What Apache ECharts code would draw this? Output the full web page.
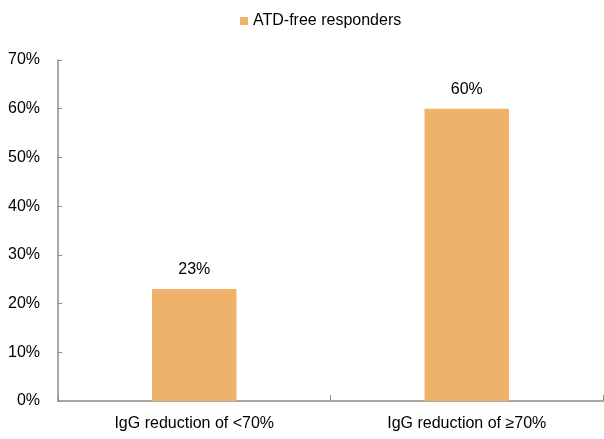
<!DOCTYPE html>
<html>
<head>
<meta charset="utf-8">
<script src="https://cdn.jsdelivr.net/npm/echarts@6/dist/echarts.min.js"></script>
<style>
  html, body { margin: 0; padding: 0; background: #fff; }
  #chart { width: 604px; height: 439px; }
</style>
</head>
<body>
<div id="chart"></div>
<script>
// Share of ATD-free responders by IgG reduction group
const categories = ['IgG reduction of <70%', 'IgG reduction of \u226570%'];
const responders = [23, 60];
const seriesName = 'ATD-free responders';

const FONT = '"Liberation Sans", Arial, sans-serif';
const AXIS_COLOR = '#8c8c8c';

const chart = echarts.init(document.getElementById('chart'));
chart.setOption({
  animation: false,
  textStyle: { fontFamily: FONT },
  legend: {
    top: 8,
    left: 235,
    itemWidth: 8,
    itemHeight: 8,
    icon: 'rect',
    itemGap: 6,
    textStyle: { fontFamily: FONT, fontSize: 16, color: '#000', padding: [0, 0, 0, 0] },
    data: [seriesName]
  },
  grid: { left: 58, right: 1, top: 60, bottom: 38, containLabel: false },
  xAxis: {
    type: 'category',
    data: categories,
    axisLine: { lineStyle: { color: AXIS_COLOR, width: 1.5 } },
    axisTick: { show: true, inside: true, length: 6, alignWithLabel: false, lineStyle: { color: AXIS_COLOR } },
    axisLabel: { fontFamily: FONT, fontSize: 16, color: '#000', margin: 15 }
  },
  yAxis: {
    type: 'value',
    min: 0,
    max: 70,
    interval: 10,
    splitLine: { show: false },
    axisLine: { show: true, lineStyle: { color: AXIS_COLOR, width: 1.5 } },
    axisTick: { show: true, inside: true, length: 4, lineStyle: { color: AXIS_COLOR } },
    axisLabel: { fontFamily: FONT, fontSize: 16, color: '#000', margin: 18, formatter: '{value}%' }
  },
  series: [{
    name: seriesName,
    type: 'bar',
    data: responders,
    barWidth: '31%',
    itemStyle: { color: '#EFB26A' },
    label: {
      show: true,
      position: 'top',
      distance: 11,
      formatter: '{c}%',
      fontFamily: FONT,
      fontSize: 16,
      color: '#000'
    }
  }]
});
</script>
</body>
</html>
